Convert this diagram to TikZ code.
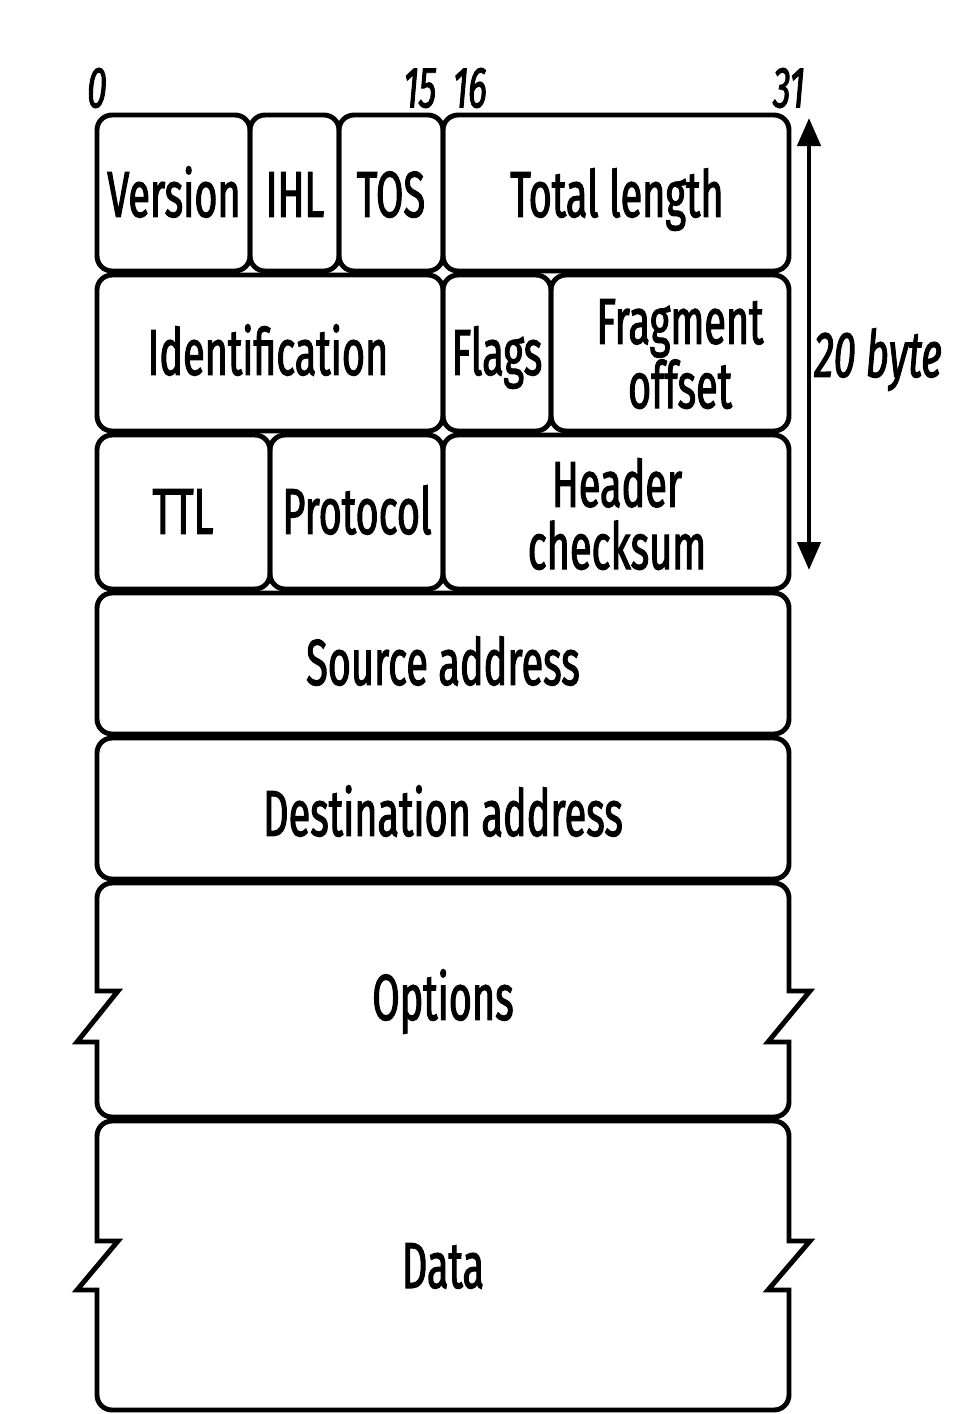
\documentclass[tikz,border=0pt]{standalone}
\usepackage{fontspec}
\setmainfont[FakeStretch=0.61, FakeBold=1.6]{Fira Sans}
\usetikzlibrary{arrows.meta}

\begin{document}
\begin{tikzpicture} [x=0.02cm, y=-0.02cm,
  box/.style={line width=2.8pt, rounded corners=0.3cm},
  field/.style={font=\fontsize{37}{35.5}\selectfont, align=center, inner sep=0pt, text height=25pt, text depth=0pt},
  field2/.style={font=\fontsize{37}{35.5}\selectfont, align=center, inner sep=0pt},
  bitno/.style={font=\fontsize{33}{33}\selectfont\itshape, inner sep=0pt, text height=22pt, text depth=0pt},
  >={Triangle[length=0.56cm, width=0.46cm]}]

\useasboundingbox (0,0) rectangle (959,1414);

% first word
\draw [box] (97,115) rectangle (250,271);
\draw [box] (250,115) rectangle (339,271);
\draw [box] (339,115) rectangle (443,271);
\draw [box] (443,115) rectangle (789,271);
\node [field] (version) at (174,195) {Version};
\node [field] (ihl) at (295,195) {IHL};
\node [field] (tos) at (391,195) {TOS};
\node [field] (totlen) at (617,195) {Total length};

% second word
\draw [box] (97,275) rectangle (443,431);
\draw [box] (443,275) rectangle (551,431);
\draw [box] (551,275) rectangle (789,431);
\node [field] (ident) at (268,353) {Identification};
\node [field] (flags) at (497,353) {Flags};
\node [field2] (fragoff) at (680,354) {Fragment\\offset};

% third word
\draw [box] (97,435) rectangle (270,589);
\draw [box] (270,435) rectangle (443,589);
\draw [box] (443,435) rectangle (789,589);
\node [field] (ttl) at (183,512) {TTL};
\node [field] (proto) at (357,512) {Protocol};
\node [field2] (hcheck) at (617,514) {Header\\checksum};

% addresses
\draw [box] (97,593) rectangle (789,734);
\draw [box] (97,738) rectangle (789,879);
\node [field] (src) at (443,663) {Source address};
\node [field] (dst) at (443,814) {Destination address};

% options
\draw [box] (443,883) [rounded corners=0.3cm] -- (789,883) -- (789,950) [sharp corners] -- (789,991)
  -- (810,991) -- (768,1042) -- (789,1042) -- (789,1080) [rounded corners=0.3cm] -- (789,1117)
  -- (97,1117) -- (97,1080) [sharp corners] -- (97,1042) -- (77,1042) -- (118,991) -- (97,991)
  -- (97,950) [rounded corners=0.3cm] -- (97,883) -- cycle;
\node [field] (opts) at (443,998) {Options};

% data
\draw [box] (443,1121) [rounded corners=0.3cm] -- (789,1121) -- (789,1200) [sharp corners] -- (789,1241)
  -- (810,1241) -- (768,1290) -- (789,1290) -- (789,1350) [rounded corners=0.3cm] -- (789,1410)
  -- (97,1410) -- (97,1350) [sharp corners] -- (97,1290) -- (77,1290) -- (118,1241) -- (97,1241)
  -- (97,1200) [rounded corners=0.3cm] -- (97,1121) -- cycle;
\node [field] (data) at (443,1266) {Data};

% bit numbers
\node [bitno] (b0) at (97,88) {0};
\node [bitno] (b15) at (420,88) {15};
\node [bitno] (b16) at (470,88) {16};
\node [bitno] (b31) at (789,88) {31};

% header length
\coordinate (htop) at (809,118);
\coordinate (hbot) at (809,570);
\draw [line width=2.6pt, <->] (htop) -- (hbot);
\node [field, font=\fontsize{37}{37}\selectfont\itshape, anchor=west] (hlen) at (814,355) {20 byte};

\end{tikzpicture}
\end{document}
